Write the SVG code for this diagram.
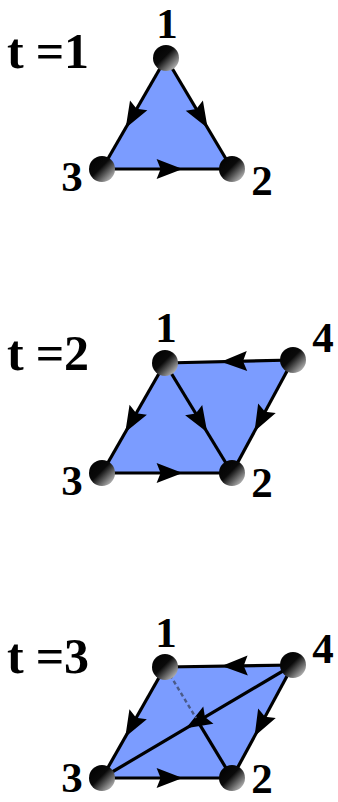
<svg xmlns="http://www.w3.org/2000/svg" width="338" height="802" viewBox="0 0 338 802">
<style>
.face{fill:#7b9cff;stroke:none}
.e{stroke:#000;stroke-width:3.2;fill:none}
.d{stroke:#4a5a88;stroke-width:2.4;fill:none;stroke-dasharray:4 3}
.n{fill:url(#ball)}
.lbl{font-family:"Liberation Serif","Times New Roman",serif;font-weight:bold;font-size:43px;fill:#000;text-anchor:middle}
.ttl{font-family:"Liberation Serif","Times New Roman",serif;font-weight:bold;font-size:50px;fill:#000}
</style>
<defs>
<linearGradient id="ball" x1="0" y1="0" x2="1" y2="1">
<stop offset="0" stop-color="#000"/>
<stop offset="0.45" stop-color="#0a0a0a"/>
<stop offset="1" stop-color="#e6e6e6"/>
</linearGradient>
<path id="arr" d="M-26,-10 L0,0 L-26,10 L-22,0 z" fill="#000"/>
</defs>

<g id="titles">
<text class="ttl" x="7" y="68" textLength="82" lengthAdjust="spacing">t =1</text>
<text class="ttl" x="7" y="370" textLength="82" lengthAdjust="spacing">t =2</text>
<text class="ttl" x="7" y="673" textLength="82" lengthAdjust="spacing">t =3</text>
</g>

<g id="faces">
<polygon class="face" points="166,58 232,169 102,169"/>
<polygon class="face" points="165,363 293,360 232,473 102,473"/>
<polygon class="face" points="165,667 293,665 232,778 102,778"/>
</g>

<g id="connectors">
<path class="e" d="M166,58 L102,169"/>
<use href="#arr" transform="translate(125.7,127.9) rotate(119.97)"/>
<path class="e" d="M166,58 L232,169"/>
<use href="#arr" transform="translate(207.6,127.9) rotate(59.26)"/>
<path class="e" d="M102,169 L232,169"/>
<use href="#arr" transform="translate(182.6,169) rotate(0)"/>

<path class="e" d="M165,363 L102,473"/>
<use href="#arr" transform="translate(125.3,432.3) rotate(119.8)"/>
<path class="e" d="M165,363 L232,473"/>
<use href="#arr" transform="translate(207.2,432.3) rotate(58.66)"/>
<path class="e" d="M293,360 L232,473"/>
<use href="#arr" transform="translate(254.6,431.2) rotate(118.36)"/>
<path class="e" d="M293,360 L165,363"/>
<use href="#arr" transform="translate(221,361.7) rotate(178.66)"/>
<path class="e" d="M102,473 L232,473"/>
<use href="#arr" transform="translate(182.6,473) rotate(0)"/>

<path class="e" d="M165,667 L102,778"/>
<use href="#arr" transform="translate(125.3,736.9) rotate(119.58)"/>
<path class="e" d="M293,665 L165,667"/>
<use href="#arr" transform="translate(221.7,666) rotate(179.1)"/>
<path class="e" d="M293,665 L232,778"/>
<use href="#arr" transform="translate(254.6,736.2) rotate(118.36)"/>
<path class="e" d="M102,778 L232,778"/>
<use href="#arr" transform="translate(182.6,778) rotate(0)"/>
<path class="e" d="M293,665 L102,778"/>
<use href="#arr" transform="translate(186,728.3) rotate(149.39)"/>
<path class="d" d="M170,675 L196,718"/>
<path class="e" d="M197.8,721.3 L232,778"/>
</g>

<g id="t1-node1"><circle class="n" cx="166" cy="58" r="13"/><text class="lbl" x="167" y="38">1</text></g>
<g id="t1-node2"><circle class="n" cx="232" cy="169" r="13"/><text class="lbl" x="262" y="195">2</text></g>
<g id="t1-node3"><circle class="n" cx="102" cy="169" r="13"/><text class="lbl" x="72" y="191">3</text></g>

<g id="t2-node1"><circle class="n" cx="165" cy="363" r="13"/><text class="lbl" x="166" y="342">1</text></g>
<g id="t2-node2"><circle class="n" cx="232" cy="473" r="13"/><text class="lbl" x="262" y="497">2</text></g>
<g id="t2-node3"><circle class="n" cx="102" cy="473" r="13"/><text class="lbl" x="72" y="495">3</text></g>
<g id="t2-node4"><circle class="n" cx="293" cy="360" r="13"/><text class="lbl" x="323" y="352">4</text></g>

<g id="t3-node1"><circle class="n" cx="165" cy="667" r="13"/><text class="lbl" x="166" y="647">1</text></g>
<g id="t3-node2"><circle class="n" cx="232" cy="778" r="13"/><text class="lbl" x="262" y="793">2</text></g>
<g id="t3-node3"><circle class="n" cx="102" cy="778" r="13"/><text class="lbl" x="72" y="792">3</text></g>
<g id="t3-node4"><circle class="n" cx="293" cy="665" r="13"/><text class="lbl" x="323" y="663">4</text></g>
</svg>
